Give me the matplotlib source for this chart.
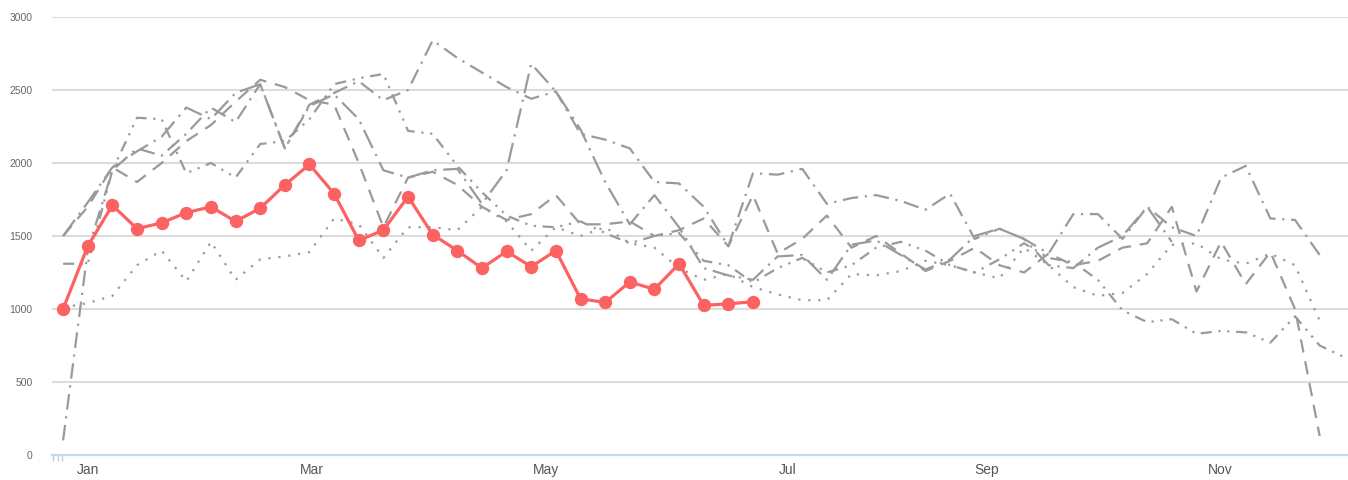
import numpy as np
import matplotlib
matplotlib.use('Agg')  # no display
import matplotlib.pyplot as plt

plt.rcParams['font.family'] = ['Liberation Sans', 'DejaVu Sans']

nan = np.nan

# weekly values, week 0 .. 52
weeks = np.arange(53)

# current year (red, markers)
current = [1000, 1430, 1710, 1550, 1590, 1660, 1700, 1600, 1690, 1850, 1990, 1790, 1470, 1540,
           1770, 1510, 1400, 1280, 1395, 1290, 1400, 1070, 1045, 1185, 1135, 1310, 1025, 1035,
           1050]

# previous years (grey, each with its own dash pattern)
year_a = [1500, 1700, 1970, 1870, 2000, 2150, 2260, 2420, 2570, 2520, 2430, 2400, 2000, 1560,
          1900, 1940, 1850, 1700, 1610, 1650, 1780, 1580, 1580, 1600, 1500, 1540, 1620, 1430,
          1780, 1380, 1480, 1640, 1420, 1500, 1380, 1260, 1330, 1420, 1300, 1250, 1380, 1300,
          1330, 1420, 1450, 1700, 1120, 1460, 1170, 1390, 1000, 130, nan]
year_b = [1310, 1310, 1950, 2310, 2300, 1930, 2000, 1900, 2130, 2150, 2300, 2540, 2580, 2610,
          2220, 2200, 1980, 1800, 1640, 1570, 1560, 1600, 1520, 1450, 1500, 1520, 1330, 1300,
          1180, 1280, 1350, 1250, 1300, 1420, 1460, 1400, 1300, 1250, 1340, 1450, 1350, 1320,
          1200, 990, 910, 930, 830, 850, 840, 770, 950, 750, 670]
year_c = [100, 1400, 1950, 2100, 2050, 2200, 2380, 2280, 2540, 2100, 2400, 2480, 2560, 2430,
          2500, 2840, 2720, 2620, 2520, 2440, 2490, 2200, 2160, 2100, 1870, 1860, 1700, 1430,
          1930, 1920, 1960, 1720, 1760, 1780, 1740, 1680, 1790, 1480, 1550, 1480, 1380, 1650,
          1650, 1480, 1700, 1560, 1500, 1900, 1980, 1620, 1610, 1370, nan]
year_d = [1010, 1040, 1090, 1300, 1400, 1190, 1460, 1200, 1340, 1360, 1390, 1620, 1580, 1350,
          1560, 1560, 1540, 1700, 1600, 1400, 1560, 1500, 1560, 1450, 1420, 1280, 1200, 1240,
          1150, 1100, 1060, 1060, 1240, 1230, 1260, 1330, 1300, 1250, 1210, 1420, 1300, 1150,
          1090, 1110, 1240, 1440, 1450, 1340, 1310, 1380, 1300, 920, nan]
year_e = [1500, 1730, 1970, 2080, 2180, 2380, 2300, 2480, 2540, 2100, 2390, 2470, 2300, 1950,
          1900, 1950, 1960, 1720, 1950, 2680, 2490, 2230, 1870, 1580, 1780, 1560, 1280, 1230,
          1200, 1360, 1370, 1200, 1440, 1470, 1370, 1270, 1340, 1500, 1550, 1480, 1300, 1280,
          1420, 1500, 1700, 1460, nan, nan, nan, nan, nan, nan, nan]

month_labels = ['Jan', 'Mar', 'May', 'Jul', 'Sep', 'Nov']
month_pos = [1.03, 10.09, 19.6, 29.4, 37.5, 46.96]

W, H = 1348, 480
fig = plt.figure(figsize=(W / 100, H / 100), dpi=100)
ax = fig.add_axes([52 / W, 25 / H, 1 - 52 / W, 438 / H])

grey = '#9a9a9a'
styles = [
    (year_a, (6, 4)),
    (year_b, (5, 3, 1, 3, 1, 3)),
    (year_c, (7, 3, 1, 3)),
    (year_d, (1, 3.5)),
    (year_e, (9, 3, 1, 3)),
]
for vals, dash in styles:
    ax.plot(weeks, vals, color=grey, lw=1.6, dashes=dash, zorder=3)

ax.plot(weeks[:len(current)], current, color='#fc6262', lw=2.3, marker='o',
        markersize=8.6, zorder=5, clip_on=False)

ax.set_xlim(-0.45, 52.15)
ax.set_ylim(0, 3000)
ax.set_yticks(range(0, 3001, 500))
ax.yaxis.grid(True, color='#dcdcdc', lw=1.5)
ax.set_axisbelow(True)

for s in ['top', 'right', 'left']:
    ax.spines[s].set_visible(False)
ax.spines['bottom'].set_color('#c9d8e6')
ax.spines['bottom'].set_linewidth(1.6)

ax.tick_params(axis='y', length=0, pad=14, labelsize=7.5, labelcolor='#666666')
ax.set_xticks(month_pos)
ax.set_xticklabels(month_labels)
ax.tick_params(axis='x', which='major', length=0, pad=6, labelsize=10, labelcolor='#555555')
ax.set_xticks([-0.41, -0.22, -0.04], minor=True)
ax.tick_params(axis='x', which='minor', length=4, width=1, color='#b8cde0')

fig.savefig('out.png', dpi=100)
